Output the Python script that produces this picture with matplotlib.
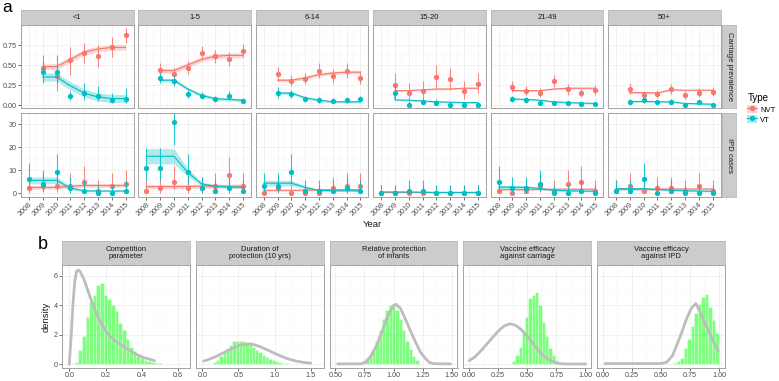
import numpy as np
import matplotlib
matplotlib.use('Agg')
import matplotlib.pyplot as plt
from matplotlib.patches import Patch
from matplotlib.lines import Line2D
from matplotlib.ticker import MultipleLocator, FixedLocator

plt.rcParams['font.family'] = ['Liberation Sans', 'DejaVu Sans']

W, H = 779, 381
NVT_COL = '#F8766D'
VT_COL = '#00BFC4'

# ---------------- data, panel a ----------------
age_groups = ['<1', '1-5', '6-14', '15-20', '21-49', '50+']
carr_years = [2009, 2010, 2011, 2012, 2013, 2014, 2015]
carr_fit_years = [2009, 2009, 2010, 2011, 2012, 2013, 2014, 2015]
ipd_years = [2008, 2009, 2010, 2011, 2012, 2013, 2014, 2015]

carr_nvt = [[0.467, 0.363, 0.563, 0.654, 0.613, 0.729, 0.875],
            [0.438, 0.388, 0.467, 0.654, 0.613, 0.575, 0.679],
            [0.388, 0.304, 0.325, 0.425, 0.363, 0.425, 0.342],
            [0.250, 0.154, 0.175, 0.354, 0.321, 0.179, 0.263],
            [0.229, 0.179, 0.154, 0.300, 0.196, 0.146, 0.188],
            [0.200, 0.125, 0.138, 0.196, 0.125, 0.154, 0.167]]
carr_nvt_lo = [[0.29, 0.17, 0.38, 0.52, 0.48, 0.60, 0.78],
               [0.36, 0.32, 0.39, 0.57, 0.53, 0.49, 0.60],
               [0.30, 0.24, 0.26, 0.34, 0.28, 0.34, 0.26],
               [0.14, 0.06, 0.08, 0.21, 0.19, 0.08, 0.15],
               [0.16, 0.12, 0.10, 0.22, 0.13, 0.10, 0.13],
               [0.14, 0.08, 0.09, 0.14, 0.08, 0.10, 0.11]]
carr_nvt_hi = [[0.63, 0.50, 0.73, 0.78, 0.75, 0.85, 0.96],
               [0.52, 0.46, 0.55, 0.74, 0.69, 0.66, 0.76],
               [0.48, 0.38, 0.40, 0.52, 0.45, 0.52, 0.43],
               [0.40, 0.28, 0.30, 0.50, 0.46, 0.30, 0.40],
               [0.30, 0.24, 0.21, 0.38, 0.26, 0.20, 0.25],
               [0.27, 0.18, 0.19, 0.26, 0.18, 0.21, 0.22]]
carr_vt = [[0.417, 0.417, 0.113, 0.146, 0.113, 0.063, 0.079],
           [0.333, 0.300, 0.133, 0.117, 0.071, 0.117, 0.050],
           [0.146, 0.133, 0.071, 0.063, 0.050, 0.063, 0.075],
           [0.146, 0.000, 0.038, 0.021, 0.000, 0.000, 0.000],
           [0.075, 0.063, 0.021, 0.021, 0.021, 0.013, 0.013],
           [0.042, 0.063, 0.033, 0.042, 0.000, 0.033, 0.000]]
carr_vt_lo = [[0.27, 0.28, 0.06, 0.06, 0.05, 0.02, 0.02],
              [0.27, 0.24, 0.09, 0.08, 0.04, 0.08, 0.02],
              [0.09, 0.09, 0.04, 0.03, 0.02, 0.03, 0.04],
              [0.07, 0.00, 0.01, 0.00, 0.00, 0.00, 0.00],
              [0.04, 0.03, 0.005, 0.005, 0.005, 0.00, 0.00],
              [0.02, 0.03, 0.01, 0.02, 0.00, 0.01, 0.00]]
carr_vt_hi = [[0.55, 0.63, 0.17, 0.27, 0.24, 0.15, 0.21],
              [0.40, 0.36, 0.19, 0.16, 0.11, 0.17, 0.09],
              [0.22, 0.19, 0.11, 0.10, 0.09, 0.10, 0.11],
              [0.26, 0.05, 0.09, 0.07, 0.04, 0.04, 0.04],
              [0.11, 0.10, 0.05, 0.05, 0.05, 0.04, 0.04],
              [0.07, 0.10, 0.06, 0.07, 0.02, 0.06, 0.02]]
carr_nvt_fit = [[0.48, 0.48, 0.48, 0.57, 0.66, 0.70, 0.72, 0.72],
                [0.43, 0.43, 0.43, 0.50, 0.57, 0.61, 0.62, 0.62],
                [0.31, 0.31, 0.31, 0.34, 0.38, 0.40, 0.41, 0.41],
                [0.18, 0.18, 0.18, 0.19, 0.20, 0.20, 0.21, 0.21],
                [0.229, 0.18, 0.18, 0.18, 0.20, 0.21, 0.21, 0.21],
                [0.155, 0.155, 0.155, 0.15, 0.19, 0.185, 0.185, 0.185]]
carr_vt_fit = [[0.35, 0.35, 0.35, 0.24, 0.15, 0.10, 0.08, 0.08],
               [0.31, 0.31, 0.31, 0.20, 0.12, 0.08, 0.07, 0.06],
               [0.15, 0.15, 0.15, 0.09, 0.06, 0.04, 0.04, 0.04],
               [0.146, 0.063, 0.06, 0.05, 0.04, 0.035, 0.03, 0.03],
               [0.075, 0.075, 0.07, 0.06, 0.04, 0.03, 0.025, 0.02],
               [0.042, 0.042, 0.045, 0.04, 0.04, 0.02, 0.015, 0.01]]
carr_nvt_band = [0.035, 0.03, 0.02, 0.01, 0.01, 0.01]
carr_vt_band = [0.05, 0.02, 0.015, 0.01, 0.01, 0.008]

ipd_vt = [[6, 4, 9, 2, 1, 0, 0, 1],
          [11, 11, 31, 9, 2, 1, 2, 1],
          [3, 3, 9, 1, 1, 1, 2, 1],
          [0, 0, 1, 1, 0, 0, 0, 0],
          [5, 2, 2, 4, 0, 0, 1, 0],
          [1, 1, 6, 0, 1, 0, 0, 0]]
ipd_vt_lo = [[2.2, 1.1, 4.1, 0.2, 0.0, 0, 0, 0.0],
             [5.5, 5.5, 21.1, 4.1, 0.2, 0.0, 0.2, 0.0],
             [0.6, 0.6, 4.1, 0.0, 0.0, 0.0, 0.2, 0.0],
             [0, 0, 0.0, 0.0, 0, 0, 0, 0],
             [1.6, 0.2, 0.2, 1.1, 0, 0, 0.0, 0],
             [0.0, 0.0, 2.2, 0, 0.0, 0, 0, 0]]
ipd_vt_hi = [[13.1, 10.2, 17.1, 7.2, 5.6, 3.7, 3.7, 5.6],
             [19.7, 19.7, 44.0, 17.1, 7.2, 5.6, 7.2, 5.6],
             [8.8, 8.8, 17.1, 5.6, 5.6, 5.6, 7.2, 5.6],
             [3.7, 3.7, 5.6, 5.6, 3.7, 3.7, 3.7, 3.7],
             [11.7, 7.2, 7.2, 10.2, 3.7, 3.7, 5.6, 3.7],
             [5.6, 5.6, 13.1, 3.7, 5.6, 3.7, 3.7, 3.7]]
ipd_nvt = [[2, 3, 3, 3, 5, 1, 3, 4],
           [1, 2, 5, 2, 2, 3, 8, 3],
           [0, 2, 0, 0, 0, 2, 3, 3],
           [0, 0, 0, 0, 0, 0, 0, 0],
           [1, 0, 1, 3, 1, 4, 5, 1],
           [1, 3, 1, 2, 2, 1, 3, 1]]
ipd_nvt_lo = [[0.2, 0.6, 0.6, 0.6, 1.6, 0.0, 0.6, 1.1],
              [0.0, 0.2, 1.6, 0.2, 0.2, 0.6, 3.5, 0.6],
              [0, 0.2, 0, 0, 0, 0.2, 0.6, 0.6],
              [0, 0, 0, 0, 0, 0, 0, 0],
              [0.0, 0, 0.0, 0.6, 0.0, 1.1, 1.6, 0.0],
              [0.0, 0.6, 0.0, 0.2, 0.2, 0.0, 0.6, 0.0]]
ipd_nvt_hi = [[7.2, 8.8, 8.8, 8.8, 11.7, 5.6, 8.8, 10.2],
              [5.6, 7.2, 11.7, 7.2, 7.2, 8.8, 15.8, 8.8],
              [3.7, 7.2, 3.7, 3.7, 3.7, 7.2, 8.8, 8.8],
              [3.7, 3.7, 3.7, 3.7, 3.7, 3.7, 3.7, 3.7],
              [5.6, 3.7, 5.6, 8.8, 5.6, 10.2, 11.7, 5.6],
              [5.6, 8.8, 5.6, 7.2, 7.2, 5.6, 8.8, 5.6]]
ipd_vt_fit = [[5.5, 5.5, 5.5, 2.2, 1.0, 0.9, 0.9, 0.9],
              [16, 16, 16, 9, 4, 3, 2.7, 2.5],
              [4.3, 4.3, 4.3, 2.5, 1.2, 1.0, 1.0, 1.0],
              [0.5, 0.5, 0.5, 0.4, 0.3, 0.3, 0.3, 0.3],
              [2.6, 2.6, 2.5, 2.0, 1.2, 1.0, 0.9, 0.8],
              [1.9, 1.9, 1.9, 1.6, 1.2, 1.0, 0.9, 0.8]]
ipd_vt_band = [[1.5, 1.5, 1.5, 0.8, 0.4, 0.3, 0.3, 0.3],
               [3.3, 3.3, 3.3, 1.8, 0.8, 0.6, 0.5, 0.5],
               [1.2, 1.2, 1.2, 0.6, 0.4, 0.3, 0.3, 0.3],
               [0.2, 0.2, 0.2, 0.2, 0.2, 0.2, 0.2, 0.2],
               [0.7, 0.7, 0.7, 0.5, 0.3, 0.3, 0.3, 0.3],
               [0.4, 0.4, 0.4, 0.4, 0.3, 0.3, 0.3, 0.3]]
ipd_nvt_fit = [[2.5, 2.5, 2.5, 3.0, 3.3, 3.3, 3.3, 3.3],
               [2.8, 2.8, 2.8, 2.9, 3.0, 3.0, 3.0, 3.0],
               [1.2, 1.2, 1.2, 1.3, 1.4, 1.5, 1.5, 1.5],
               [0.3, 0.3, 0.3, 0.3, 0.3, 0.3, 0.3, 0.3],
               [1.5, 1.5, 1.5, 1.6, 1.7, 1.7, 1.7, 1.7],
               [1.6, 1.6, 1.6, 1.7, 1.8, 1.8, 1.8, 1.8]]
ipd_nvt_band = [0.8, 0.9, 0.4, 0.15, 0.4, 0.4]

# ---------------- data, panel b ----------------
param_titles = ['Competition\nparameter', 'Duration of\nprotection (10 yrs)',
                'Relative protection\nof infants', 'Vaccine efficacy\nagainst carriage',
                'Vaccine efficacy\nagainst IPD']

post_start = [0.04, 0.17, 0.745, 0.382, 0.62]
post_width = [0.02, 0.045, 0.0286, 0.0286, 0.03]
post_density = [
    [0.15, 0.95, 1.9, 3.2, 4.2, 4.7, 5.4, 5.5, 4.7, 4.4, 4.0, 3.6, 2.8, 2.3, 1.7,
     1.2, 0.9, 0.55, 0.4, 0.3, 0.22, 0.15, 0.12, 0.08, 0.05, 0.04, 0.03, 0.02, 0.02, 0.01],
    [0.15, 0.3, 0.55, 0.8, 1.05, 1.3, 1.55, 1.6, 1.58, 1.6, 1.5, 1.35, 1.2, 1.0, 0.85,
     0.65, 0.5, 0.38, 0.28, 0.2, 0.14, 0.1, 0.06, 0.04, 0.02],
    [0.2, 0.38, 0.65, 1.05, 1.55, 2.3, 3.1, 3.7, 4.0, 4.07, 3.7, 3.1, 2.3, 1.55, 1.05, 0.55, 0.3],
    [0.2, 0.65, 1.2, 2.1, 3.2, 4.5, 4.7, 4.9, 4.0, 2.9, 1.9, 1.1, 0.65, 0.3, 0.13],
    [0.1, 0.2, 0.45, 1.1, 1.7, 2.6, 3.5, 4.1, 4.6, 4.8, 3.9, 3.0, 2.1],
]
prior_x = [
    [0.0, 0.01, 0.02, 0.03, 0.04, 0.05, 0.06, 0.08, 0.10, 0.12, 0.15, 0.18, 0.21, 0.25,
     0.30, 0.35, 0.40, 0.47],
    [0.02, 0.1, 0.2, 0.3, 0.4, 0.5, 0.6, 0.65, 0.7, 0.8, 0.9, 1.0, 1.1, 1.2, 1.3, 1.4, 1.5],
    [0.52, 0.72, 0.76, 0.8, 0.85, 0.9, 0.95, 1.0, 1.02, 1.06, 1.1, 1.15, 1.19, 1.23, 1.27,
     1.31, 1.35, 1.49],
    [0.0, 0.05, 0.1, 0.15, 0.2, 0.25, 0.3, 0.35, 0.4, 0.45, 0.5, 0.55, 0.6, 0.65, 0.7,
     0.75, 0.8, 0.85, 1.0],
    [0.02, 0.5, 0.55, 0.6, 0.635, 0.68, 0.72, 0.76, 0.8, 0.99],
]
prior_y = [
    [0.0, 1.8, 4.0, 5.6, 6.3, 6.4, 6.3, 5.8, 5.1, 4.4, 3.4, 2.7, 2.1, 1.6, 1.2, 0.8,
     0.5, 0.25],
    [0.22, 0.35, 0.55, 0.8, 1.05, 1.27, 1.35, 1.38, 1.36, 1.2, 0.98, 0.75, 0.53, 0.35,
     0.22, 0.13, 0.08],
    [0.03, 0.03, 0.15, 0.5, 1.2, 2.2, 3.3, 4.0, 4.07, 3.8, 3.1, 2.2, 1.5, 0.85, 0.43,
     0.12, 0.04, 0.03],
    [0.25, 0.5, 0.9, 1.35, 1.8, 2.25, 2.6, 2.75, 2.65, 2.35, 1.9, 1.4, 0.9, 0.5, 0.25,
     0.1, 0.03, 0.02, 0.02],
    [0.05, 0.05, 0.15, 0.6, 1.3, 2.2, 3.1, 3.8, 4.13, 0.88],
]
b_xlims = [(-0.04, 0.665), (-0.09, 1.68), (0.45, 1.55), (-0.05, 1.05), (-0.05, 1.05)]
b_xticks = [[0.0, 0.2, 0.4, 0.6], [0.0, 0.5, 1.0, 1.5],
            [0.5, 0.75, 1.0, 1.25, 1.5], [0, 0.25, 0.5, 0.75, 1.0], [0, 0.25, 0.5, 0.75, 1.0]]
b_xfmt = ['%.1f', '%.1f', '%.2f', '%.2f', '%.2f']


def box(x0, y0, x1, y1):
    return [x0 / W, 1 - y1 / H, (x1 - x0) / W, (y1 - y0) / H]


def style(ax):
    ax.set_facecolor('white')
    for s in ax.spines.values():
        s.set_color('#a3a3a3')
        s.set_linewidth(0.7)
    ax.grid(which='major', color='#ebebeb', lw=0.5)
    ax.grid(which='minor', color='#f4f4f4', lw=0.35)
    ax.set_axisbelow(True)
    ax.tick_params(which='major', length=2, width=0.5, color='#333333',
                   labelsize=5.2, labelcolor='#4d4d4d', pad=1.2)
    ax.tick_params(which='minor', length=0)


def strip(rect, text, rot=0, size=5.5):
    s = fig.add_axes(rect)
    s.set_facecolor('#cccccc')
    s.set_xticks([])
    s.set_yticks([])
    for sp in s.spines.values():
        sp.set_color('#b8b8b8')
        sp.set_linewidth(0.6)
    s.text(0.5, 0.5, text, ha='center', va='center', rotation=rot, fontsize=size,
           color='#1a1a1a', transform=s.transAxes, linespacing=1.05)


def draw_series(ax, x, obs, lo, hi, fx, fit, band, color):
    fit = np.array(fit, dtype=float)
    band = np.array(band, dtype=float)
    ax.fill_between(fx, fit - band, fit + band, color=color, alpha=0.3, lw=0)
    ax.plot(fx, fit, color=color, lw=0.8)
    ax.vlines(x, lo, hi, color=color, lw=0.8, alpha=0.85)
    ax.plot(x, obs, 'o', color=color, ms=3.8, mec='none')


fig = plt.figure(figsize=(W / 100, H / 100), dpi=100)

# ---------------- panel a ----------------
left0, pw, step = 21, 112.5, 117.4
for i, grp in enumerate(age_groups):
    x0 = left0 + i * step
    x1 = x0 + pw
    strip(box(x0, 10, x1, 25), grp)

    ax = fig.add_axes(box(x0, 25, x1, 108))
    style(ax)
    draw_series(ax, carr_years, carr_nvt[i], carr_nvt_lo[i], carr_nvt_hi[i],
                carr_fit_years, carr_nvt_fit[i], carr_nvt_band[i], NVT_COL)
    draw_series(ax, carr_years, carr_vt[i], carr_vt_lo[i], carr_vt_hi[i],
                carr_fit_years, carr_vt_fit[i], carr_vt_band[i], VT_COL)
    ax.set_xlim(2007.42, 2015.58)
    ax.set_ylim(-0.0375, 1.0)
    ax.xaxis.set_major_locator(MultipleLocator(1))
    ax.xaxis.set_minor_locator(MultipleLocator(0.5))
    ax.yaxis.set_major_locator(FixedLocator([0, 0.25, 0.5, 0.75]))
    ax.yaxis.set_minor_locator(FixedLocator([0.125, 0.375, 0.625, 0.875]))
    ax.tick_params(bottom=False, labelbottom=False)
    if i == 0:
        ax.set_yticklabels(['0.00', '0.25', '0.50', '0.75'])
    else:
        ax.tick_params(left=False, labelleft=False)

    ax2 = fig.add_axes(box(x0, 113, x1, 197))
    style(ax2)
    draw_series(ax2, ipd_years, ipd_nvt[i], ipd_nvt_lo[i], ipd_nvt_hi[i],
                ipd_years, ipd_nvt_fit[i], ipd_nvt_band[i], NVT_COL)
    draw_series(ax2, ipd_years, ipd_vt[i], ipd_vt_lo[i], ipd_vt_hi[i],
                ipd_years, ipd_vt_fit[i], ipd_vt_band[i], VT_COL)
    ax2.set_xlim(2007.42, 2015.58)
    ax2.set_ylim(-1.7, 34.8)
    ax2.xaxis.set_major_locator(MultipleLocator(1))
    ax2.xaxis.set_minor_locator(MultipleLocator(0.5))
    ax2.yaxis.set_major_locator(FixedLocator([0, 10, 20, 30]))
    ax2.yaxis.set_minor_locator(FixedLocator([5, 15, 25]))
    ax2.set_xticks(ipd_years)
    ax2.set_xticklabels([str(y) for y in ipd_years], rotation=45, ha='right',
                        rotation_mode='anchor')
    if i > 0:
        ax2.tick_params(left=False, labelleft=False)

strip(box(722, 25, 736, 108), 'Carriage prevalence', rot=-90)
strip(box(722, 113, 736, 197), 'IPD cases', rot=-90)

fig.text(372 / W, 1 - 225 / H, 'Year', ha='center', va='center', fontsize=6.8, color='#1a1a1a')
fig.text(2 / W, 1 - 8 / H, 'a', ha='left', va='center', fontsize=12.5)

handles = [(Patch(facecolor=NVT_COL, alpha=0.3, lw=0),
            Line2D([], [], color=NVT_COL, lw=0.8, marker='o', ms=3.8, mec='none')),
           (Patch(facecolor=VT_COL, alpha=0.3, lw=0),
            Line2D([], [], color=VT_COL, lw=0.8, marker='o', ms=3.8, mec='none'))]
leg = fig.legend(handles, ['NVT', 'VT'], title='Type', loc='upper left',
                 bbox_to_anchor=(742 / W, 1 - 88 / H), frameon=False, fontsize=5.5,
                 title_fontsize=7, handlelength=1.3, handleheight=1.3,
                 handletextpad=0.4, labelspacing=0.2, borderpad=0.2)
leg._legend_box.align = 'left'

# ---------------- panel b ----------------
bleft, bw, bstep = 62, 128, 133.75
for j, title in enumerate(param_titles):
    x0 = bleft + j * bstep
    x1 = x0 + bw
    strip(box(x0, 241, x1, 265), title)
    ax = fig.add_axes(box(x0, 265, x1, 368))
    style(ax)
    ax.plot(prior_x[j], prior_y[j], color='#bdbdbd', lw=2.0, solid_capstyle='round')
    centers = post_start[j] + post_width[j] * np.arange(len(post_density[j]))
    ax.bar(centers, post_density[j], width=post_width[j], color='#00ff00', alpha=0.5,
           edgecolor='white', linewidth=0.4)
    ax.set_xlim(*b_xlims[j])
    ax.set_ylim(-0.25, 6.74)
    ax.set_xticks(b_xticks[j])
    ax.set_xticklabels([b_xfmt[j] % v for v in b_xticks[j]])
    mt = b_xticks[j]
    ax.xaxis.set_minor_locator(FixedLocator([(a + b) / 2 for a, b in zip(mt[:-1], mt[1:])]))
    ax.yaxis.set_major_locator(FixedLocator([0, 2, 4, 6]))
    ax.yaxis.set_minor_locator(FixedLocator([1, 3, 5]))
    if j == 0:
        ax.set_ylabel('density', fontsize=6.8, color='#1a1a1a', labelpad=2)
    else:
        ax.tick_params(left=False, labelleft=False)

fig.text(38 / W, 1 - 244 / H, 'b', ha='left', va='center', fontsize=13)

fig.savefig('out.png', dpi=100)
